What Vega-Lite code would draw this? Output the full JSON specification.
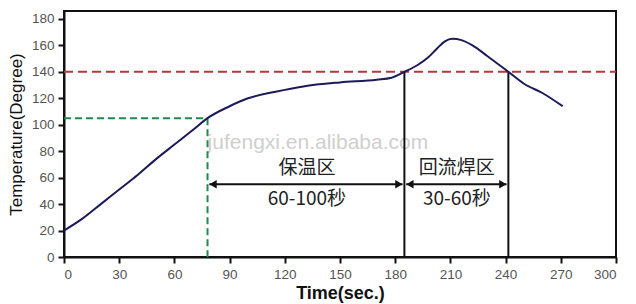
{
  "$schema": "https://vega.github.io/schema/vega-lite/v6.json",
  "width": 552,
  "height": 246,
  "autosize": {"type": "none"},
  "padding": {"left": 64, "top": 11, "right": 20, "bottom": 47},
  "background": "white",
  "config": {
    "view": {"stroke": "#111", "strokeWidth": 2},
    "axis": {
      "grid": false,
      "domainColor": "#111",
      "domainWidth": 2,
      "tickColor": "#111",
      "tickWidth": 2,
      "tickSize": 6,
      "labelFont": "Liberation Sans",
      "labelFontSize": 13.5,
      "labelColor": "#555",
      "labelOverlap": false,
      "titleFont": "Liberation Sans",
      "titleColor": "#111"
    }
  },
  "datasets": {
    "curve": [
      {"t": 0, "T": 20}, {"t": 10, "T": 29}, {"t": 20, "T": 40}, {"t": 30, "T": 51},
      {"t": 40, "T": 62}, {"t": 50, "T": 74}, {"t": 60, "T": 85}, {"t": 70, "T": 96},
      {"t": 78, "T": 105}, {"t": 90, "T": 114}, {"t": 100, "T": 120}, {"t": 115, "T": 125},
      {"t": 130, "T": 129}, {"t": 150, "T": 132}, {"t": 170, "T": 134}, {"t": 178, "T": 135.5},
      {"t": 185, "T": 140}, {"t": 192, "T": 145}, {"t": 198, "T": 151}, {"t": 203, "T": 158},
      {"t": 207, "T": 163}, {"t": 211, "T": 165}, {"t": 216, "T": 164}, {"t": 222, "T": 160},
      {"t": 230, "T": 152}, {"t": 241.5, "T": 140}, {"t": 250, "T": 131}, {"t": 260, "T": 124},
      {"t": 271, "T": 114}
    ],
    "red": [
      {"t": 0, "t2": 300, "T": 140, "T2": 140}
    ],
    "green": [
      {"t": 0, "t2": 78, "T": 105, "T2": 105},
      {"t": 78, "t2": 78, "T": 105, "T2": 0}
    ],
    "black": [
      {"t": 185, "t2": 185, "T": 140, "T2": 0},
      {"t": 241.5, "t2": 241.5, "T": 140, "T2": 0},
      {"t": 79, "t2": 184, "T": 55, "T2": 55},
      {"t": 186, "t2": 240.5, "T": 55, "T2": 55}
    ],
    "heads": [
      {"t": 81, "T": 55, "s": "triangle-left"},
      {"t": 182, "T": 55, "s": "triangle-right"},
      {"t": 188, "T": 55, "s": "triangle-left"},
      {"t": 238.5, "T": 55, "s": "triangle-right"}
    ],
    "labels": [
      {"t": 132, "T": 67, "txt": "保温区"},
      {"t": 132, "T": 43.5, "txt": "60-100秒"},
      {"t": 213.5, "T": 67, "txt": "回流焊区"},
      {"t": 213.5, "T": 43.5, "txt": "30-60秒"}
    ],
    "wm": [
      {"t": 138, "T": 86, "txt": "jufengxi.en.alibaba.com"}
    ]
  },
  "encoding": {
    "x": {
      "field": "t", "type": "quantitative",
      "scale": {"domain": [0, 300], "nice": false, "zero": false},
      "axis": {"values": [0, 30, 60, 90, 120, 150, 180, 210, 240, 270, 300], "labelOverlap": false, "title": "Time(sec.)", "titleFontSize": 18, "titleFontWeight": "bold", "titlePadding": 4, "labelPadding": 4}
    },
    "y": {
      "field": "T", "type": "quantitative",
      "scale": {"domain": [0, 186], "nice": false},
      "axis": {"values": [0, 20, 40, 60, 80, 100, 120, 140, 160, 180], "labelOverlap": false, "title": "Temperature(Degree)", "titleFontSize": 17, "titleFontWeight": "normal", "titlePadding": 6, "labelPadding": 4}
    }
  },
  "layer": [
    {
      "data": {"name": "wm"},
      "mark": {"type": "text", "font": "Liberation Sans", "fontSize": 21, "color": "#a0a0a0", "opacity": 0.5},
      "encoding": {"text": {"field": "txt"}}
    },
    {
      "data": {"name": "red"},
      "mark": {"type": "rule", "color": "#b5383a", "strokeWidth": 2, "strokeDash": [9, 5]},
      "encoding": {"x2": {"field": "t2"}, "y2": {"field": "T2"}}
    },
    {
      "data": {"name": "green"},
      "mark": {"type": "rule", "color": "#1f8a4c", "strokeWidth": 2, "strokeDash": [7, 4]},
      "encoding": {"x2": {"field": "t2"}, "y2": {"field": "T2"}}
    },
    {
      "data": {"name": "black"},
      "mark": {"type": "rule", "color": "#111", "strokeWidth": 2},
      "encoding": {"x2": {"field": "t2"}, "y2": {"field": "T2"}}
    },
    {
      "data": {"name": "heads"},
      "mark": {"type": "point", "filled": true, "color": "#111", "opacity": 1, "size": 70},
      "encoding": {
        "shape": {"field": "s", "type": "nominal", "scale": null, "legend": null}
      }
    },
    {
      "data": {"name": "labels"},
      "mark": {"type": "text", "font": "Noto Sans CJK SC", "fontSize": 19, "color": "#222"},
      "encoding": {"text": {"field": "txt"}}
    },
    {
      "data": {"name": "curve"},
      "mark": {"type": "line", "color": "#1c1a5a", "strokeWidth": 2, "interpolate": "monotone"}
    }
  ]
}
